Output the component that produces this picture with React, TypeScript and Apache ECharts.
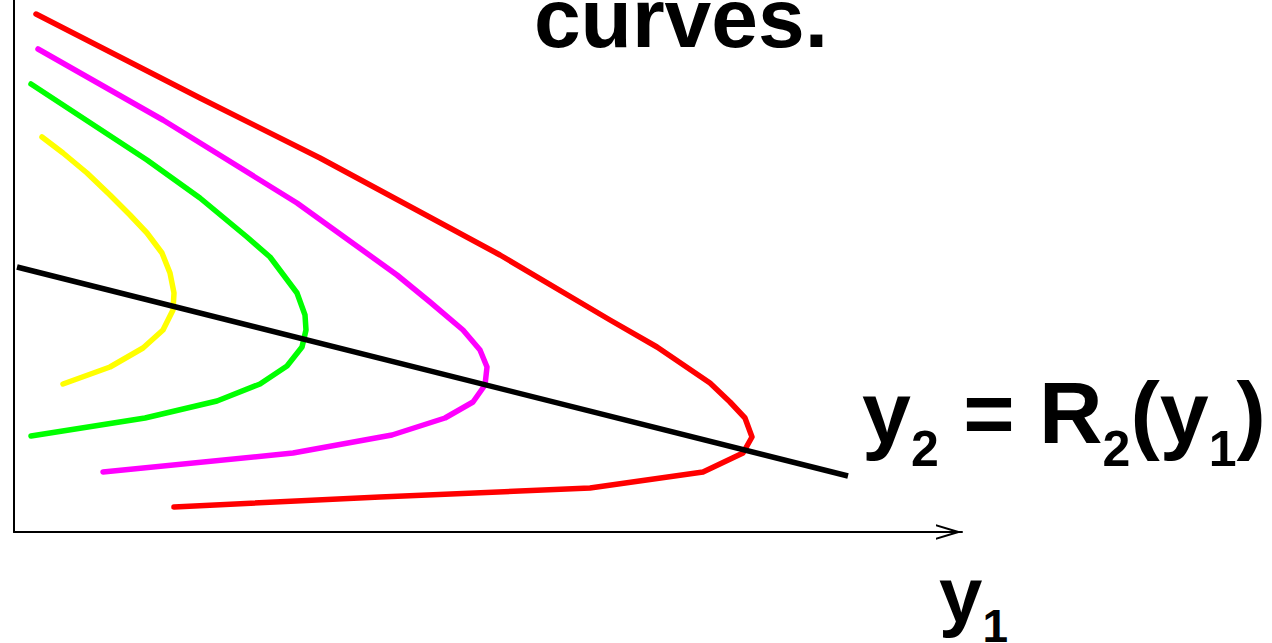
import React, { useEffect, useRef } from "react";
import * as echarts from "echarts";

// Reaction curves in the (y1, y2) plane, arbitrary units.
// Each curve is a list of [y1, y2] points.
const redCurve: [number, number][] = [
  [22, 518], [186, 434], [306, 374], [486, 277], [596, 212], [643, 185],
  [696, 149], [716, 130], [731, 114], [738, 95], [729, 79], [689, 60],
  [576, 44], [366, 35], [160, 25],
];
const magentaCurve: [number, number][] = [
  [24, 483], [149, 412], [283, 329], [383, 257], [416, 230], [449, 202],
  [466, 182], [473, 165], [471, 147], [459, 130], [431, 114], [378, 97],
  [279, 79], [89, 60],
];
const greenCurve: [number, number][] = [
  [17, 448], [133, 372], [186, 334], [233, 295], [256, 275], [283, 239],
  [291, 217], [292, 202], [288, 185], [273, 166], [246, 148], [203, 131],
  [131, 114], [17, 96],
];
const yellowCurve: [number, number][] = [
  [28, 395], [49, 379], [73, 359], [96, 337], [116, 317], [133, 299],
  [148, 279], [156, 259], [160, 239], [159, 222], [149, 202], [129, 184],
  [96, 165], [49, 148],
];
// Best-response line y2 = R2(y1)
const responseLine: [number, number][] = [
  [3, 265],
  [834, 56],
];

const curveColors = ["#ff0000", "#ff00ff", "#00ff00", "#ffff00"];

const FONT = '"Liberation Sans", Arial, Helvetica, sans-serif';

const mainStyle = (size: number) => ({
  fontFamily: FONT,
  fontWeight: "bold",
  fontSize: size,
  lineHeight: size,
  verticalAlign: "top",
  fill: "#000000",
  color: "#000000",
});

const subStyle = (size: number, lineHeight: number, drop: number) => ({
  fontFamily: FONT,
  fontWeight: "bold",
  fontSize: size,
  lineHeight,
  padding: [drop, 0, 0, 0],
  verticalAlign: "top",
  fill: "#000000",
  color: "#000000",
});

export default function App() {
  const ref = useRef<HTMLDivElement>(null);

  useEffect(() => {
    if (!ref.current) return;
    const chart = echarts.init(ref.current, null, { renderer: "svg" });

    const curve = (name: string, data: [number, number][], color: string) => ({
      name,
      type: "line",
      data,
      showSymbol: false,
      symbol: "none",
      smooth: false,
      silent: true,
      emphasis: { disabled: true },
      lineStyle: { color, width: 5.5, cap: "round", join: "round" },
      z: 2,
    });

    const axisArrow = "path://M7.5,0 L15,25 L13,25 L7.5,7 L2,25 L0,25 Z";

    chart.setOption({
      animation: false,
      backgroundColor: "#ffffff",
      grid: { left: 14, top: 0, width: 948, height: 532, containLabel: false },
      xAxis: {
        type: "value",
        min: 0,
        max: 948,
        axisLine: {
          show: true,
          onZero: false,
          lineStyle: { color: "#000", width: 2 },
          symbol: ["none", axisArrow],
          symbolSize: [16, 26],
          symbolOffset: [0, -13],
        },
        axisTick: { show: false },
        axisLabel: { show: false },
        splitLine: { show: false },
      },
      yAxis: {
        type: "value",
        min: 0,
        max: 532,
        axisLine: { show: true, onZero: false, lineStyle: { color: "#000", width: 2 } },
        axisTick: { show: false },
        axisLabel: { show: false },
        splitLine: { show: false },
      },
      series: [
        curve("red", redCurve, curveColors[0]),
        curve("magenta", magentaCurve, curveColors[1]),
        curve("green", greenCurve, curveColors[2]),
        curve("yellow", yellowCurve, curveColors[3]),
        {
          name: "R2",
          type: "line",
          data: responseLine,
          showSymbol: false,
          symbol: "none",
          silent: true,
          emphasis: { disabled: true },
          lineStyle: { color: "#000000", width: 5.5, cap: "butt" },
          z: 3,
        },
      ],
      graphic: [
        {
          type: "text",
          x: 681,
          y: 18,
          style: {
            text: "curves.",
            fontFamily: FONT,
            fontWeight: "bold",
            fontSize: 84,
            lineHeight: 36,
            fill: "#000",
            align: "center",
            verticalAlign: "middle",
          },
        },
        {
          type: "text",
          x: 862,
          y: 368,
          style: {
            text: "{m|y}{s|2}{m| = R}{s|2}{m|(y}{s|1}{m|)}",
            align: "left",
            verticalAlign: "top",
            fill: "#000000",
            rich: {
              m: mainStyle(88),
              s: subStyle(50, 40, 56),
            },
          },
        },
        {
          type: "text",
          x: 939,
          y: 556,
          style: {
            text: "{m|y}{s|1}",
            align: "left",
            verticalAlign: "top",
            fill: "#000000",
            rich: {
              m: mainStyle(78),
              s: subStyle(46, 30, 47),
            },
          },
        },
      ],
    });

    return () => chart.dispose();
  }, []);

  return (
    <div
      ref={ref}
      style={{ position: "absolute", left: 0, top: 0, width: 1272, height: 643 }}
    />
  );
}
